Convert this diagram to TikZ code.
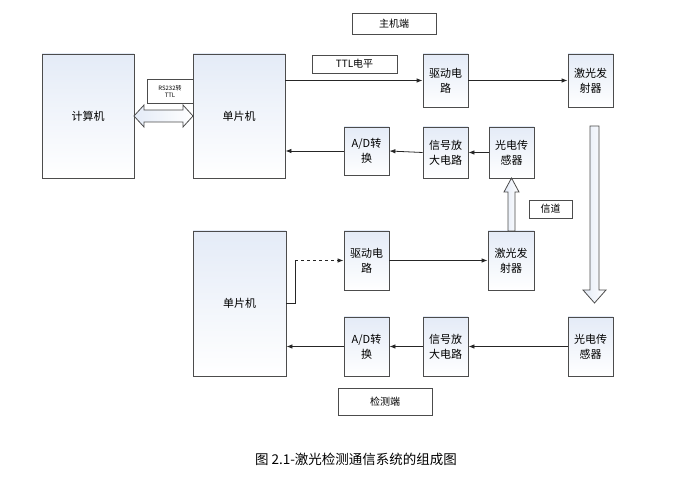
\documentclass[tikz,border=0pt]{standalone}
\usepackage{fontspec}
\setmainfont{Noto Sans CJK SC}
\usetikzlibrary{arrows.meta}
\definecolor{tint}{RGB}{228,235,247}
\begin{document}
\begin{tikzpicture}[x=1pt,y=-1pt,
    blk/.style={draw=black!70, line width=0.8pt, top color=tint, bottom color=white,
                align=center, inner sep=0pt, font=\fontsize{11}{15}\selectfont},
    tag/.style={draw=black!70, line width=0.8pt, fill=white, inner sep=0pt,
                font=\fontsize{10}{12}\selectfont},
    con/.style={draw=black!85, line width=0.8pt, -{Latex[length=6pt,width=4.5pt]}},
    fat/.style={draw=black!70, line width=0.8pt, left color=tint, right color=white}]
  \useasboundingbox (0,0) rectangle (681,478);

  % host side
  \node[tag, minimum width=46, minimum height=24, align=center,
        font=\fontsize{6}{7}\selectfont] (rs) at (170,91) {RS232转\\TTL};
  \node[blk, minimum width=92, minimum height=124] (pc)   at (88,116)    {计算机};
  \node[blk, minimum width=92, minimum height=124] (mcuA) at (239,116)   {单片机};
  \node[tag, minimum width=84, minimum height=21]  (host) at (394,23.5)  {主机端};
  \node[tag, minimum width=85, minimum height=18]  (ttl)  at (354.5,64)  {TTL电平};
  \node[blk, minimum width=45, minimum height=53]  (drvA) at (445.5,80.5) {驱动电\\路};
  \node[blk, minimum width=45, minimum height=53]  (lasA) at (590.5,80.5) {激光发\\射器};
  \node[blk, minimum width=45, minimum height=48]  (adA)  at (366.5,151)  {A/D转\\换};
  \node[blk, minimum width=45, minimum height=51]  (ampA) at (445.5,152.5) {信号放\\大电路};
  \node[blk, minimum width=45, minimum height=51]  (senA) at (511.5,152.5) {光电传\\感器};
  \node[tag, minimum width=43, minimum height=18]  (chan) at (550.5,209)  {信道};

  % detector side
  \node[blk, minimum width=93, minimum height=145] (mcuB) at (239.5,303.5) {单片机};
  \node[blk, minimum width=45, minimum height=59]  (drvB) at (366.5,260.5) {驱动电\\路};
  \node[blk, minimum width=46, minimum height=59]  (lasB) at (511,260.5)   {激光发\\射器};
  \node[blk, minimum width=45, minimum height=59]  (adB)  at (366.5,346.5) {A/D转\\换};
  \node[blk, minimum width=45, minimum height=59]  (ampB) at (445.5,346.5) {信号放\\大电路};
  \node[blk, minimum width=45, minimum height=59]  (senB) at (590.5,346.5) {光电传\\感器};
  \node[tag, minimum width=94, minimum height=27]  (det)  at (385,401.5)   {检测端};

  \node[font=\fontsize{13.5}{15}\selectfont] (cap) at (356,459) {图 2.1-激光检测通信系统的组成图};

  % block arrows
  \draw[fat] (134,116) -- (144,105) -- (144,110) -- (183,110) -- (183,105) -- (193,116)
             -- (183,127) -- (183,122) -- (144,122) -- (144,127) -- cycle;
  \draw[fat] (590,126) -- (599,126) -- (599,290) -- (606,290) -- (594.5,303)
             -- (583,290) -- (590,290) -- cycle;
  \draw[fat] (508,231) -- (508,192) -- (504,192) -- (511.5,178) -- (519,192)
             -- (515,192) -- (515,231) -- cycle;

  % connectors
  \draw[con] (mcuA.east |- drvA.west) -- (drvA.west);
  \draw[con] (drvA.east) -- (lasA.west);
  \draw[con] (senA.west) -- (ampA.east);
  \draw[con] (ampA.west) -- (adA.east);
  \draw[con] (adA.west) -- (mcuA.east |- adA.west);

  \coordinate (k1) at (295,303);
  \coordinate (k2) at (k1 |- drvB.west);
  \draw[draw=black!85, line width=0.8pt] (mcuB.east |- k1) -- (k1) -- (k2);
  \draw[con, dashed] (k2) -- (drvB.west);
  \draw[con] (drvB.east) -- (lasB.west);
  \draw[con] (senB.west) -- (ampB.east);
  \draw[con] (ampB.west) -- (adB.east);
  \draw[con] (adB.west) -- (mcuB.east |- adB.west);
\end{tikzpicture}
\end{document}
